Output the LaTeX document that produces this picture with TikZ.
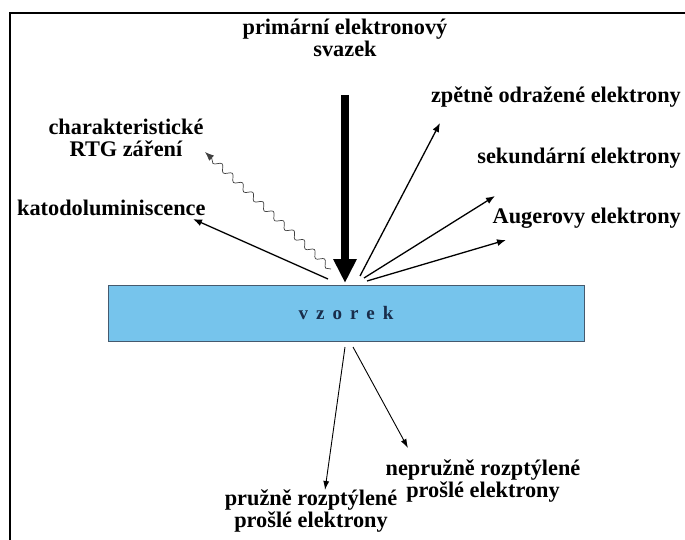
\documentclass[tikz,border=0pt]{standalone}
\usepackage{fontspec}
\setmainfont{Liberation Serif}
\usetikzlibrary{arrows.meta,decorations.pathmorphing}
\definecolor{vzorekfill}{RGB}{118,196,236}
\definecolor{vzorekline}{RGB}{70,90,110}
\definecolor{vzorektext}{RGB}{25,45,75}

\begin{document}
\begin{tikzpicture}[x=1pt, y=-1pt, every node/.style={font=\bfseries\fontsize{22.3}{22.5}\selectfont, align=center, inner sep=0pt}, ray/.style={-{Latex[length=9pt,width=7pt]}, line width=1.3pt}, thinray/.style={-{Latex[length=9pt,width=6pt]}, line width=0.9pt}, wave/.style={-{Latex[length=9pt,width=7pt]}, black!75, line width=0.7pt, decorate, decoration={snake, amplitude=3pt, segment length=14pt, post length=7pt}}]
	\useasboundingbox (0,0) rectangle (685,540);
	\draw[line width=1.4pt] (685,13) -- (10,13) -- (10,540);
	\node[draw=vzorekline, line width=1pt, fill=vzorekfill, minimum width=476pt, minimum height=56pt, text=vzorektext, font=\bfseries\fontsize{19}{20}\selectfont] (vzorek) at (346,313) {v\hspace{8pt}z\hspace{8pt}o\hspace{8pt}r\hspace{8pt}e\hspace{8pt}k};
	% labels
	\node (primar) at (345,38) {primární elektronový\\svazek};
	\node[anchor=east] (zpet) at (681,97) {zpětně odražené elektrony};
	\node[anchor=east] (sekund) at (681,158) {sekundární elektrony};
	\node[anchor=east] (auger) at (681,218) {Augerovy elektrony};
	\node[anchor=west] (katodo) at (17,208) {katodoluminiscence};
	\node (rtg) at (126,138) {charakteristické\\RTG záření};
	\node (pruzne) at (311,511) {pružně rozptýlené\\prošlé elektrony};
	\node (nepruzne) at (483,481) {nepružně rozptýlené\\prošlé elektrony};
	% ends of the rays
	\coordinate (btop) at (345,95);
	\coordinate (hit) at (345,283);
	\foreach \n/\x/\y in {o1/360/276, o2/364/278, o3/367/281, o4/328/279, o5/331/269, o6/345/347, o7/353/347} {\coordinate (\n) at (\x,\y);}
	\foreach \n/\x/\y in {t1/440/123, t2/495/196, t3/506/240, t4/193/219, t5/205/152, t6/325/490, t7/408/448} {\coordinate (\n) at (\x,\y);}
	\draw[line width=8pt, -{Triangle[length=24pt,width=22pt]}] (btop) -- (hit);
	\foreach \i in {1,2,3,4} {\draw[ray] (o\i) -- (t\i);}
	\draw[wave] (o5) -- (t5);
	\foreach \i in {6,7} {\draw[thinray] (o\i) -- (t\i);}
\end{tikzpicture}
\end{document}
